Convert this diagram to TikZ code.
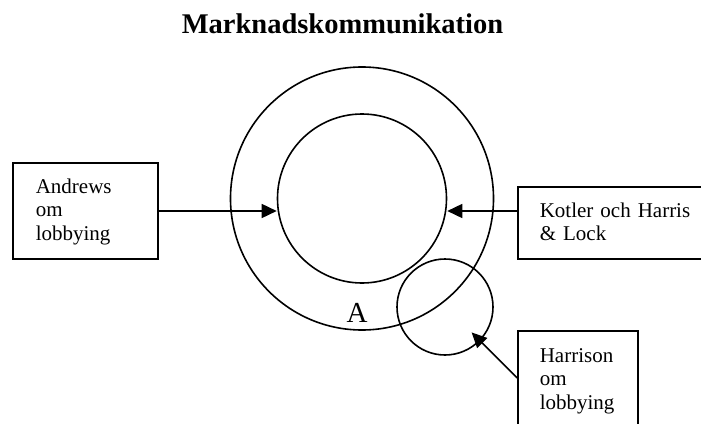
\documentclass[tikz,border=0pt]{standalone}
\usepackage{fontspec}
\setmainfont{Liberation Serif}
\usetikzlibrary{arrows.meta}
\begin{document}
\begin{tikzpicture}[x=1pt,y=-1pt,
 line width=1.6pt,
 boxstyle/.style={draw, rectangle, inner sep=0pt},
 ring/.style={draw, circle, inner sep=0pt},
 lbl/.style={font=\fontsize{21}{23.5}\selectfont, align=left, text width=170pt, inner sep=0pt, anchor=base west},
 arr/.style={-{Triangle[length=15pt,width=14pt]}}]
\useasboundingbox (0,0) rectangle (701,423);
\clip (0,0) rectangle (701,423);
\node[font=\bfseries\fontsize{28.5}{34}\selectfont, inner sep=0pt, anchor=base] (title) at (342.5,33) {Marknadskommunikation};
\node[ring, minimum size=263pt] (outer) at (362,198.5) {};
\node[ring, minimum size=169pt] (inner) at (362,198.5) {};
\node[ring, minimum size=96pt] (small) at (445,307) {};
\node[font=\fontsize{29}{34}\selectfont, inner sep=0pt, anchor=base] (a) at (357,322) {A};
\node[boxstyle, minimum width=145pt, minimum height=96pt] (andrews) at (85.5,211) {};
\node[boxstyle, minimum width=202pt, minimum height=72pt] (kotler) at (619,223) {};
\node[boxstyle, minimum width=120pt, minimum height=94pt] (harrison) at (578,378) {};
\node[lbl] (andrewstext) at (35,193) {Andrews\\om\\lobbying};
\node[lbl] (kotlertext) at (539,217) {Kotler och Harris\\\& Lock};
\node[lbl] (harrisontext) at (539,362) {Harrison\\om\\lobbying};
\coordinate (kstart) at ([yshift=12pt]kotler.west);
\draw[arr] (andrews.east) -- (andrews.east -| inner.west);
\draw[arr] (kstart) -- (kstart -| inner.east);
\draw[arr, shorten >=-12pt] (harrison.west) -- (small.-44);
\end{tikzpicture}
\end{document}
